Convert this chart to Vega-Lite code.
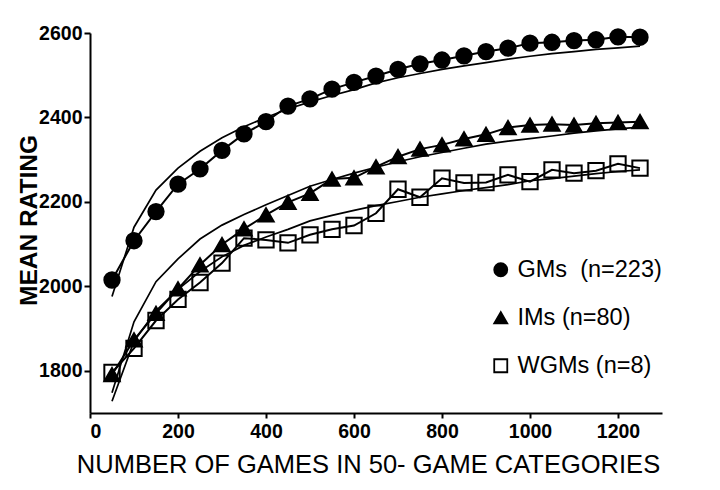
{
  "$schema": "https://vega.github.io/schema/vega-lite/v6.json",
  "width": 572,
  "height": 380,
  "autosize": {"type": "none"},
  "padding": {"left": 90, "top": 33, "right": 58, "bottom": 77},
  "background": "white",
  "config": {
    "view": {"stroke": null},
    "font": "Liberation Sans",
    "axis": {
      "domainColor": "black",
      "domainWidth": 2,
      "tickColor": "black",
      "tickWidth": 2,
      "grid": false,
      "labelColor": "black",
      "labelFont": "Liberation Sans",
      "labelFontWeight": "bold",
      "labelFontSize": 19.5,
      "titleColor": "black",
      "titleFont": "Liberation Sans"
    },
    "legend": {
      "labelFont": "Liberation Sans",
      "labelFontSize": 23.5,
      "labelColor": "black",
      "symbolStrokeColor": "black",
      "symbolStrokeWidth": 1.8,
      "symbolSize": 170,
      "rowPadding": 23,
      "labelOffset": 5,
      "padding": 0
    }
  },
  "datasets": {
    "ratings": [
      {"group": "GMs\u00a0 (n=223)", "games": 50, "mean": 2015, "fit": 1976},
      {"group": "GMs\u00a0 (n=223)", "games": 100, "mean": 2108, "fit": 2140},
      {"group": "GMs\u00a0 (n=223)", "games": 150, "mean": 2177, "fit": 2228},
      {"group": "GMs\u00a0 (n=223)", "games": 200, "mean": 2242, "fit": 2280},
      {"group": "GMs\u00a0 (n=223)", "games": 250, "mean": 2278, "fit": 2320},
      {"group": "GMs\u00a0 (n=223)", "games": 300, "mean": 2322, "fit": 2352},
      {"group": "GMs\u00a0 (n=223)", "games": 350, "mean": 2361, "fit": 2378},
      {"group": "GMs\u00a0 (n=223)", "games": 400, "mean": 2390, "fit": 2400},
      {"group": "GMs\u00a0 (n=223)", "games": 450, "mean": 2427, "fit": 2420},
      {"group": "GMs\u00a0 (n=223)", "games": 500, "mean": 2444, "fit": 2437},
      {"group": "GMs\u00a0 (n=223)", "games": 550, "mean": 2467, "fit": 2452},
      {"group": "GMs\u00a0 (n=223)", "games": 600, "mean": 2483, "fit": 2466},
      {"group": "GMs\u00a0 (n=223)", "games": 650, "mean": 2498, "fit": 2482},
      {"group": "GMs\u00a0 (n=223)", "games": 700, "mean": 2514, "fit": 2494},
      {"group": "GMs\u00a0 (n=223)", "games": 750, "mean": 2527, "fit": 2504},
      {"group": "GMs\u00a0 (n=223)", "games": 800, "mean": 2536, "fit": 2514},
      {"group": "GMs\u00a0 (n=223)", "games": 850, "mean": 2546, "fit": 2522},
      {"group": "GMs\u00a0 (n=223)", "games": 900, "mean": 2556, "fit": 2530},
      {"group": "GMs\u00a0 (n=223)", "games": 950, "mean": 2564, "fit": 2538},
      {"group": "GMs\u00a0 (n=223)", "games": 1000, "mean": 2576, "fit": 2545},
      {"group": "GMs\u00a0 (n=223)", "games": 1050, "mean": 2578, "fit": 2551},
      {"group": "GMs\u00a0 (n=223)", "games": 1100, "mean": 2582, "fit": 2556},
      {"group": "GMs\u00a0 (n=223)", "games": 1150, "mean": 2584, "fit": 2561},
      {"group": "GMs\u00a0 (n=223)", "games": 1200, "mean": 2591, "fit": 2565},
      {"group": "GMs\u00a0 (n=223)", "games": 1250, "mean": 2590, "fit": 2569},
      {"group": "IMs (n=80)", "games": 50, "mean": 1791, "fit": 1748},
      {"group": "IMs (n=80)", "games": 100, "mean": 1873, "fit": 1916},
      {"group": "IMs (n=80)", "games": 150, "mean": 1936, "fit": 2011},
      {"group": "IMs (n=80)", "games": 200, "mean": 1994, "fit": 2065},
      {"group": "IMs (n=80)", "games": 250, "mean": 2051, "fit": 2112},
      {"group": "IMs (n=80)", "games": 300, "mean": 2099, "fit": 2145},
      {"group": "IMs (n=80)", "games": 350, "mean": 2136, "fit": 2170},
      {"group": "IMs (n=80)", "games": 400, "mean": 2169, "fit": 2193},
      {"group": "IMs (n=80)", "games": 450, "mean": 2199, "fit": 2215},
      {"group": "IMs (n=80)", "games": 500, "mean": 2220, "fit": 2237},
      {"group": "IMs (n=80)", "games": 550, "mean": 2254, "fit": 2253},
      {"group": "IMs (n=80)", "games": 600, "mean": 2257, "fit": 2268},
      {"group": "IMs (n=80)", "games": 650, "mean": 2283, "fit": 2282},
      {"group": "IMs (n=80)", "games": 700, "mean": 2307, "fit": 2295},
      {"group": "IMs (n=80)", "games": 750, "mean": 2325, "fit": 2307},
      {"group": "IMs (n=80)", "games": 800, "mean": 2335, "fit": 2317},
      {"group": "IMs (n=80)", "games": 850, "mean": 2349, "fit": 2327},
      {"group": "IMs (n=80)", "games": 900, "mean": 2360, "fit": 2337},
      {"group": "IMs (n=80)", "games": 950, "mean": 2376, "fit": 2344},
      {"group": "IMs (n=80)", "games": 1000, "mean": 2382, "fit": 2350},
      {"group": "IMs (n=80)", "games": 1050, "mean": 2384, "fit": 2356},
      {"group": "IMs (n=80)", "games": 1100, "mean": 2382, "fit": 2363},
      {"group": "IMs (n=80)", "games": 1150, "mean": 2386, "fit": 2368},
      {"group": "IMs (n=80)", "games": 1200, "mean": 2388, "fit": 2373},
      {"group": "IMs (n=80)", "games": 1250, "mean": 2390, "fit": 2377},
      {"group": "WGMs (n=8)", "games": 50, "mean": 1796, "fit": 1728},
      {"group": "WGMs (n=8)", "games": 100, "mean": 1853, "fit": 1870},
      {"group": "WGMs (n=8)", "games": 150, "mean": 1919, "fit": 1942},
      {"group": "WGMs (n=8)", "games": 200, "mean": 1969, "fit": 1993},
      {"group": "WGMs (n=8)", "games": 250, "mean": 2009, "fit": 2035},
      {"group": "WGMs (n=8)", "games": 300, "mean": 2055, "fit": 2070},
      {"group": "WGMs (n=8)", "games": 350, "mean": 2114, "fit": 2097},
      {"group": "WGMs (n=8)", "games": 400, "mean": 2110, "fit": 2117},
      {"group": "WGMs (n=8)", "games": 450, "mean": 2103, "fit": 2135},
      {"group": "WGMs (n=8)", "games": 500, "mean": 2122, "fit": 2155},
      {"group": "WGMs (n=8)", "games": 550, "mean": 2135, "fit": 2168},
      {"group": "WGMs (n=8)", "games": 600, "mean": 2144, "fit": 2180},
      {"group": "WGMs (n=8)", "games": 650, "mean": 2173, "fit": 2191},
      {"group": "WGMs (n=8)", "games": 700, "mean": 2230, "fit": 2201},
      {"group": "WGMs (n=8)", "games": 750, "mean": 2211, "fit": 2211},
      {"group": "WGMs (n=8)", "games": 800, "mean": 2256, "fit": 2219},
      {"group": "WGMs (n=8)", "games": 850, "mean": 2245, "fit": 2227},
      {"group": "WGMs (n=8)", "games": 900, "mean": 2246, "fit": 2234},
      {"group": "WGMs (n=8)", "games": 950, "mean": 2264, "fit": 2241},
      {"group": "WGMs (n=8)", "games": 1000, "mean": 2248, "fit": 2250},
      {"group": "WGMs (n=8)", "games": 1050, "mean": 2276, "fit": 2255},
      {"group": "WGMs (n=8)", "games": 1100, "mean": 2268, "fit": 2261},
      {"group": "WGMs (n=8)", "games": 1150, "mean": 2274, "fit": 2267},
      {"group": "WGMs (n=8)", "games": 1200, "mean": 2290, "fit": 2272},
      {"group": "WGMs (n=8)", "games": 1250, "mean": 2280, "fit": 2276}
    ]
  },
  "data": {"name": "ratings"},
  "encoding": {
    "x": {
      "field": "games",
      "type": "quantitative",
      "scale": {"domain": [0, 1300], "nice": false},
      "axis": {
        "values": [0, 200, 400, 600, 800, 1000, 1200],
        "format": "d",
        "tickSize": 5,
        "labelPadding": 4,
        "title": "NUMBER OF GAMES IN 50- GAME CATEGORIES",
        "titleFontSize": 25.5,
        "titleFontWeight": "normal",
        "titleBaseline": "alphabetic",
        "titleX": 278,
        "titleY": 59
      }
    }
  },
  "layer": [
    {
      "mark": {"type": "line", "color": "black", "strokeWidth": 1.7},
      "encoding": {
        "y": {
          "field": "fit",
          "type": "quantitative",
          "scale": {"domain": [1700, 2600], "nice": false, "zero": false},
          "axis": {
            "values": [1800, 2000, 2200, 2400, 2600],
            "format": "d",
            "tickSize": 6,
            "labelPadding": 2,
            "title": "MEAN RATING",
            "titleFont": "Liberation Sans",
            "titleFontSize": 24.5,
            "titleFontWeight": "bold",
            "titleBaseline": "alphabetic",
            "titleX": -54,
            "titleY": 187
          }
        },
        "detail": {"field": "group"}
      }
    },
    {
      "mark": {"type": "line", "color": "black", "strokeWidth": 2},
      "encoding": {
        "y": {"field": "mean", "type": "quantitative"},
        "detail": {"field": "group"}
      }
    },
    {
      "mark": {"type": "point", "strokeWidth": 2, "opacity": 1, "size": 235},
      "encoding": {
        "y": {"field": "mean", "type": "quantitative"},
        "shape": {
          "field": "group",
          "type": "nominal",
          "scale": {
            "domain": ["GMs\u00a0 (n=223)", "IMs (n=80)", "WGMs (n=8)"],
            "range": ["circle", "triangle-up", "square"]
          },
          "legend": {
            "title": null,
            "orient": "none",
            "legendX": 399,
            "legendY": 225
          }
        },
        "fill": {
          "field": "group",
          "type": "nominal",
          "scale": {
            "domain": ["GMs\u00a0 (n=223)", "IMs (n=80)", "WGMs (n=8)"],
            "range": ["black", "black", "transparent"]
          },
          "legend": {
            "title": null,
            "orient": "none",
            "legendX": 399,
            "legendY": 225
          }
        },
        "stroke": {
          "field": "group",
          "type": "nominal",
          "scale": {
            "domain": ["GMs\u00a0 (n=223)", "IMs (n=80)", "WGMs (n=8)"],
            "range": ["black", "black", "black"]
          },
          "legend": {
            "title": null,
            "orient": "none",
            "legendX": 399,
            "legendY": 225
          }
        }
      }
    }
  ]
}
